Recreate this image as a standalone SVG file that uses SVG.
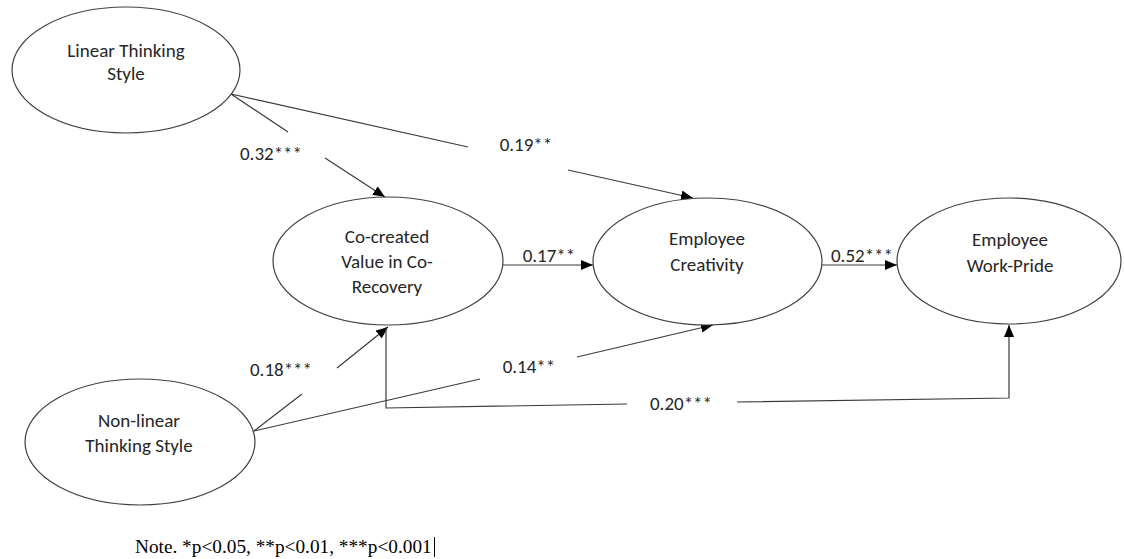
<svg xmlns="http://www.w3.org/2000/svg" width="1124" height="559" viewBox="0 0 1124 559">
  <defs>
    <marker id="arrow" viewBox="0 0 12 10" refX="12" refY="5" markerWidth="12" markerHeight="10" markerUnits="userSpaceOnUse" orient="auto">
      <path d="M0,0 L12,5 L0,10 z" fill="#000"/>
    </marker>
    <style>
      .node ellipse { fill: #fff; stroke: #404040; stroke-width: 1.2; }
      .lbl { font-family: Carlito, Lato, "Liberation Sans", sans-serif; font-size: 19px; fill: #262626; text-anchor: middle; }
      .coef { font-family: Carlito, Lato, "Liberation Sans", sans-serif; font-size: 19px; fill: #262626; text-anchor: middle; }
      .conn line, .conn path { stroke: #3a3a3a; stroke-width: 1.2; fill: none; }
      .note { font-family: "Liberation Serif", "Times New Roman", serif; font-size: 19.3px; fill: #000; }
    </style>
  </defs>

  <g id="connectors" class="conn">
    <line x1="231" y1="94" x2="288" y2="132"/>
    <line x1="325" y1="158" x2="385" y2="197" marker-end="url(#arrow)"/>
    <line x1="231" y1="94" x2="468" y2="147"/>
    <line x1="568" y1="170" x2="693" y2="198" marker-end="url(#arrow)"/>
    <line x1="503" y1="265" x2="593" y2="265" marker-end="url(#arrow)"/>
    <line x1="822" y1="265" x2="897" y2="265" marker-end="url(#arrow)"/>
    <line x1="254" y1="431" x2="302" y2="394"/>
    <line x1="337" y1="368" x2="388" y2="327" marker-end="url(#arrow)"/>
    <line x1="254" y1="431" x2="480" y2="379"/>
    <line x1="577" y1="357" x2="713" y2="325" marker-end="url(#arrow)"/>
    <path d="M386,327 L386,408 L627,404"/>
    <path d="M737,402 L1009,398 L1009,325" marker-end="url(#arrow)"/>
  </g>

  <g id="labels">
    <text class="coef" x="271" y="160">0.32***</text>
    <text class="coef" x="526" y="151">0.19**</text>
    <text class="coef" x="549" y="262">0.17**</text>
    <text class="coef" x="862" y="262">0.52***</text>
    <text class="coef" x="281" y="376">0.18***</text>
    <text class="coef" x="529" y="373">0.14**</text>
    <text class="coef" x="681" y="410">0.20***</text>
  </g>

  <g id="linear" class="node">
    <ellipse cx="126" cy="70" rx="114" ry="63"/>
    <text class="lbl" x="126" y="57">Linear Thinking</text>
    <text class="lbl" x="126" y="80">Style</text>
  </g>

  <g id="cocreated" class="node">
    <ellipse cx="388" cy="261" rx="115" ry="64"/>
    <text class="lbl" x="387" y="243">Co-created</text>
    <text class="lbl" x="387" y="268">Value in Co-</text>
    <text class="lbl" x="387" y="293">Recovery</text>
  </g>

  <g id="creativity" class="node">
    <ellipse cx="707.5" cy="261.5" rx="114.5" ry="63.5"/>
    <text class="lbl" x="707" y="245">Employee</text>
    <text class="lbl" x="707" y="271">Creativity</text>
  </g>

  <g id="workpride" class="node">
    <ellipse cx="1009" cy="261" rx="112" ry="63"/>
    <text class="lbl" x="1010" y="246">Employee</text>
    <text class="lbl" x="1010" y="272">Work-Pride</text>
  </g>

  <g id="nonlinear" class="node">
    <ellipse cx="140" cy="442" rx="115" ry="63"/>
    <text class="lbl" x="139" y="427">Non-linear</text>
    <text class="lbl" x="139" y="452">Thinking Style</text>
  </g>

  <g id="note">
    <text class="note" x="135" y="553">Note. *p&lt;0.05, **p&lt;0.01, ***p&lt;0.001</text>
    <line x1="434.5" y1="537" x2="434.5" y2="557" stroke="#000" stroke-width="1"/>
  </g>
</svg>
